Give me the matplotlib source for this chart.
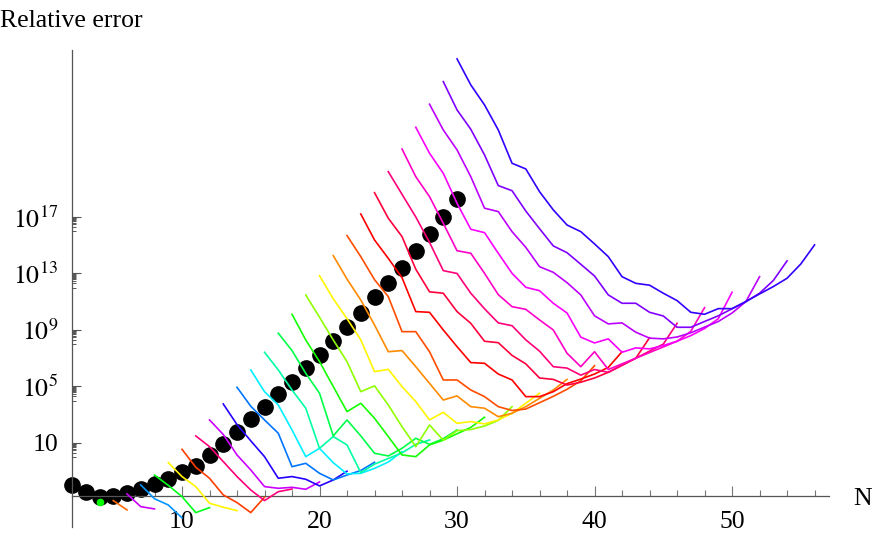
import matplotlib
matplotlib.use("Agg")
import matplotlib.pyplot as plt
import matplotlib.colors as mcolors
import numpy as np

# ---- data (log10 of relative error) ----
dot_N = list(range(2, 31))
dot_log10 = [-1.97, -2.45, -2.80, -2.75, -2.56, -2.26, -1.90, -1.55, -1.08, -0.60,
             0.15, 0.93, 1.76, 2.68, 3.57, 4.47, 5.34, 6.29, 7.23, 8.22,
             9.19, 10.22, 11.30, 12.30, 13.41, 14.59, 15.78, 17.02, 18.25]

# each curve starts at N = start and has one value per N
s04 = [-3.20]
s05 = [-3.08, -3.74]
s06 = [-2.61, -3.51, -3.67]
s07 = [-1.97, -2.95, -3.39, -4.30]
s08 = [-1.27, -2.00, -2.80, -3.93, -3.58]
s09 = [-0.39, -1.38, -2.09, -3.27, -3.55, -3.79]
s10 = [0.55, -0.72, -1.50, -2.68, -3.22, -3.93, -2.84]
s11 = [1.50, 0.74, -0.32, -1.38, -2.33, -3.08, -2.45, -2.26]
s12 = [2.63, 1.60, 0.15, -0.91, -2.09, -2.21, -2.14, -2.28, -1.76]
s13 = [3.76, 2.30, 1.15, 0.03, -1.50, -1.38, -1.57, -2.04, -1.62, -1.00]
s14 = [4.94, 3.60, 2.63, 1.69, -0.68, -0.44, -1.15, -1.62, -1.27, -0.95, -0.37]
s15 = [6.17, 4.63, 3.69, 1.92, 0.03, 0.62, -0.40, -1.19, -1.15, -0.80, -0.35, 0.38]
s16 = [7.42, 6.17, 4.75, 3.46, 0.62, 1.45, 0.86, -1.10, -0.50, -0.10, 0.30, 0.90, 1.21]
s17 = [8.77, 7.54, 5.93, 4.52, 1.50, 2.63, 1.50, 0.27, 0.08, 0.62, 1.33, 0.90, 1.30, 1.92]
s18 = [10.11, 8.29, 6.76, 4.99, 3.22, 3.81, 2.75, 1.45, 0.15, 0.03, 0.86, 1.20, 1.65, 2.10, 2.82]
s19 = [11.48, 9.90, 8.29, 6.76, 4.63, 5.04, 3.69, 2.15, 0.74, 2.27, 1.20, 1.87, 1.95, 2.20, 2.60, 3.57]
s20 = [12.84, 11.20, 9.80, 8.30, 6.05, 6.21, 4.99, 3.93, 2.63, 3.17, 2.39, 2.51, 2.35, 2.63, 3.10, 3.81, 4.52]
s21 = [14.26, 12.60, 11.12, 9.35, 7.46, 7.54, 6.40, 5.22, 4.04, 4.33, 3.57, 3.46, 2.86, 3.10, 3.57, 4.16, 4.75, 5.50]
s22 = [15.68, 14.19, 12.56, 11.36, 8.88, 8.88, 7.46, 5.46, 5.46, 4.75, 4.28, 3.57, 3.30, 3.40, 3.85, 4.30, 4.80, 5.40, 6.47]
s23 = [17.21, 15.37, 14.07, 12.70, 10.30, 10.25, 9.00, 7.82, 6.69, 6.64, 5.88, 5.46, 4.28, 4.28, 4.63, 5.20, 5.52, 5.88, 6.35, 7.46]
s24 = [18.72, 16.91, 15.61, 13.30, 11.70, 11.60, 10.30, 9.47, 8.20, 8.10, 7.20, 6.60, 5.60, 5.50, 5.10, 5.30, 5.60, 6.00, 6.50, 7.00, 8.45]
s25 = [20.21, 18.60, 17.00, 15.20, 13.20, 13.00, 11.60, 10.50, 9.50, 9.30, 8.30, 7.50, 6.40, 6.30, 5.80, 6.20, 6.00, 6.50, 7.00, 7.50, 8.00, 9.47]
s26 = [21.81, 19.85, 18.44, 16.55, 14.61, 14.43, 13.01, 11.50, 10.65, 10.46, 9.71, 9.00, 7.35, 6.40, 7.46, 6.20, 6.60, 7.00, 7.40, 7.80, 8.20, 8.90, 10.58]
s27 = [23.35, 21.51, 20.09, 17.97, 16.13, 15.89, 14.43, 13.01, 12.02, 11.78, 10.89, 10.20, 8.49, 8.08, 8.37, 7.42, 7.73, 7.66, 7.90, 8.20, 8.60, 9.10, 9.80, 11.67]
s28 = [24.98, 23.16, 21.75, 19.85, 17.62, 17.38, 15.96, 14.85, 13.48, 13.08, 12.35, 11.48, 10.00, 9.43, 9.50, 8.84, 8.42, 8.37, 8.50, 8.80, 9.20, 9.60, 10.20, 11.00, 12.77]
s29 = [26.58, 24.58, 23.21, 21.39, 19.22, 18.86, 17.42, 16.17, 14.95, 14.47, 13.65, 12.82, 11.48, 10.89, 10.89, 10.25, 9.99, 9.19, 9.19, 9.60, 10.00, 10.50, 11.00, 11.60, 12.50, 13.89]
s30 = [28.19, 26.35, 24.93, 23.16, 20.80, 20.40, 18.79, 17.50, 16.43, 15.96, 15.09, 14.19, 12.77, 12.30, 12.17, 11.60, 11.08, 10.25, 10.11, 10.51, 10.51, 11.01, 11.55, 12.07, 12.66, 13.67, 15.02]

curve_starts = list(range(4, 31))
curves = [s04, s05, s06, s07, s08, s09, s10, s11, s12, s13, s14, s15, s16, s17,
          s18, s19, s20, s21, s22, s23, s24, s25, s26, s27, s28, s29, s30]

x_ticks_major = [10, 20, 30, 40, 50]
y_tick_exps = [1, 5, 9, 13, 17]

# ---- style ----
hues = [0.33, 0.07, 0.80, 0.57, 0.35, 0.16, 0.04, 0.92, 0.80, 0.69, 0.59, 0.51,
        0.44, 0.38, 0.32, 0.24, 0.16, 0.09, 0.05, 0.00, 0.96, 0.92, 0.87, 0.83,
        0.79, 0.75, 0.70]

plt.rcParams['font.family'] = ['Liberation Serif', 'DejaVu Serif']
plt.rcParams['mathtext.fontset'] = 'stix'

W, H = 872, 535
fig = plt.figure(figsize=(W / 100, H / 100), dpi=100)

x0_px, x1_px = 72, 829
y0_px, y1_px = 50, 527
ax = fig.add_axes([x0_px / W, 1 - y1_px / H, (x1_px - x0_px) / W, (y1_px - y0_px) / H])

xmin, xmax = 2.0, 57.05
ymin_e, ymax_e = -4.95, 28.82
ax.set_xlim(xmin, xmax)
ax.set_yscale('log')
ax.set_ylim(10 ** ymin_e, 10 ** ymax_e)

# dots
ax.plot(dot_N, [10 ** v for v in dot_log10], 'o', color='black', ms=11,
        clip_on=False, zorder=2)

for s, vals, h in zip(curve_starts, curves, hues):
    col = mcolors.hsv_to_rgb((h, 1.0, 1.0))
    Ns = list(range(s, s + len(vals)))
    yv = [10 ** v for v in vals]
    if len(vals) == 1:
        ax.plot(Ns, yv, 'o', color=col, ms=4.5, clip_on=False, zorder=3)
    else:
        ax.plot(Ns, yv, '-', color=col, lw=1.2, clip_on=False, zorder=3)

# axes styling (Mathematica-like)
for sp in ['top', 'right']:
    ax.spines[sp].set_visible(False)
axis_col = '#555555'
ax.spines['left'].set_color(axis_col)
ax.spines['bottom'].set_color(axis_col)
ax.spines['left'].set_linewidth(0.9)
ax.spines['bottom'].set_linewidth(0.9)
ax.spines['bottom'].set_position(('data', 10 ** -2.75))
ax.spines['left'].set_position(('data', 2.0))

ax.set_xticks(x_ticks_major)
ax.set_xticklabels([str(t) for t in x_ticks_major])
ax.set_xticks([t for t in range(4, 57, 2) if t not in x_ticks_major], minor=True)
ax.tick_params(axis='x', which='major', direction='in', length=7, width=0.8,
               color='#777777', labelsize=18.5, pad=11)
ax.tick_params(axis='x', which='minor', direction='in', length=4.3, width=0.8,
               color='#777777')

ax.set_yticks([10.0 ** e for e in y_tick_exps])
ax.set_yticklabels(['10' if e == 1 else r'$10^{%d}$' % e for e in y_tick_exps])
minor_y = []
for e in y_tick_exps:
    for m in range(1, 10):
        minor_y.append(m * 10.0 ** (e - 1))
ax.set_yticks(minor_y, minor=True)
ax.yaxis.set_minor_formatter(matplotlib.ticker.NullFormatter())
ax.tick_params(axis='y', which='major', direction='in', length=6.5, width=0.8,
               color='#555555', labelsize=18.5, pad=10)
ax.tick_params(axis='y', which='minor', direction='in', length=3, width=0.7,
               color='#555555')

ax.patch.set_alpha(0)

fig.text(0.0, 1 - 27 / H, 'Relative error', fontsize=18.5, ha='left', va='baseline')
fig.text(853 / W, 1 - 505 / H, 'N', fontsize=18.5, ha='left', va='baseline')

fig.savefig('out.png', dpi=100)
